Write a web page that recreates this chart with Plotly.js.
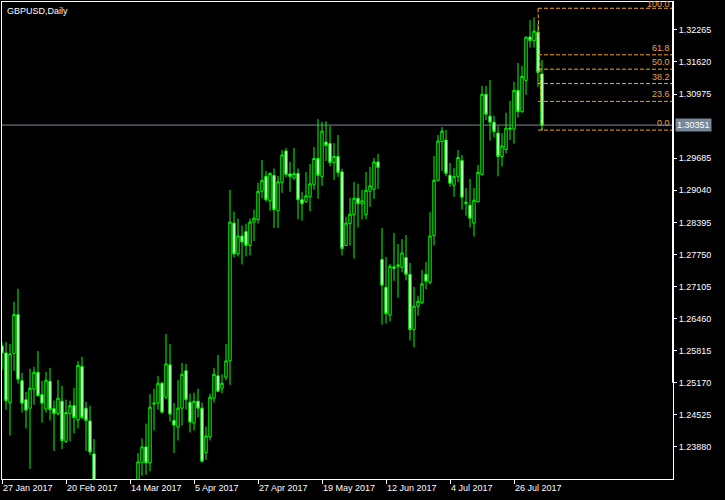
<!DOCTYPE html>
<html>
<head>
<meta charset="utf-8">
<script src="https://cdn.plot.ly/plotly-3.0.1.min.js"></script>
<style>
html,body{margin:0;padding:0;background:#000;}
#chart{width:725px;height:500px;}
</style>
</head>
<body>
<div id="chart"></div>
<script>
// ---- data (GBPUSD daily) ----
const dates = [
'2017-01-27','2017-01-30','2017-01-31',
'2017-02-01','2017-02-02','2017-02-03','2017-02-06','2017-02-07','2017-02-08','2017-02-09','2017-02-10',
'2017-02-13','2017-02-14','2017-02-15','2017-02-16','2017-02-17','2017-02-20','2017-02-21','2017-02-22',
'2017-02-23','2017-02-24','2017-02-27','2017-02-28',
'2017-03-01','2017-03-02','2017-03-03','2017-03-06','2017-03-07','2017-03-08','2017-03-09','2017-03-10',
'2017-03-13','2017-03-14','2017-03-15','2017-03-16','2017-03-17','2017-03-20','2017-03-21','2017-03-22',
'2017-03-23','2017-03-24','2017-03-27','2017-03-28','2017-03-29','2017-03-30','2017-03-31',
'2017-04-03','2017-04-04','2017-04-05','2017-04-06','2017-04-07','2017-04-10','2017-04-11','2017-04-12',
'2017-04-13','2017-04-14','2017-04-17','2017-04-18','2017-04-19','2017-04-20','2017-04-21','2017-04-24',
'2017-04-25','2017-04-26','2017-04-27','2017-04-28',
'2017-05-01','2017-05-02','2017-05-03','2017-05-04','2017-05-05','2017-05-08','2017-05-09','2017-05-10',
'2017-05-11','2017-05-12','2017-05-15','2017-05-16','2017-05-17','2017-05-18','2017-05-19','2017-05-22',
'2017-05-23','2017-05-24','2017-05-25','2017-05-26','2017-05-29','2017-05-30','2017-05-31',
'2017-06-01','2017-06-02','2017-06-05','2017-06-06','2017-06-07','2017-06-08','2017-06-09','2017-06-12',
'2017-06-13','2017-06-14','2017-06-15','2017-06-16','2017-06-19','2017-06-20','2017-06-21','2017-06-22',
'2017-06-23','2017-06-26','2017-06-27','2017-06-28','2017-06-29','2017-06-30',
'2017-07-03','2017-07-04','2017-07-05','2017-07-06','2017-07-07','2017-07-10','2017-07-11','2017-07-12',
'2017-07-13','2017-07-14','2017-07-17','2017-07-18','2017-07-19','2017-07-20','2017-07-21','2017-07-24',
'2017-07-25','2017-07-26','2017-07-27','2017-07-28','2017-07-31',
'2017-08-01','2017-08-02','2017-08-03','2017-08-04'
];
const open = [
1.2591,1.2577,1.2477,1.2576,1.2654,1.2521,1.2483,1.2466,1.2504,1.2538,1.2493,1.2464,1.2520,1.2465,1.2455,1.2480,
1.2399,1.2455,1.2471,1.2442,1.2550,1.2466,1.2440,1.2374,1.2282,1.2267,1.2296,1.2237,1.2213,1.2168,1.2165,1.2195,
1.2225,1.2160,1.2290,1.2357,1.2388,1.2356,1.2474,1.2476,1.2516,1.2488,1.2553,1.2441,1.2428,1.2466,1.2541,1.2478,
1.2436,1.2480,1.2466,1.2376,1.2408,1.2486,1.2531,1.2506,1.2528,1.2561,1.2838,1.2776,1.2812,1.2821,1.2793,1.2840,
1.2845,1.2902,1.2932,1.2883,1.2934,1.2863,1.2920,1.2983,1.2937,1.2929,1.2938,1.2885,1.2881,1.2891,1.2916,1.2968,
1.2932,1.3001,1.2998,1.2960,1.2972,1.2941,1.2793,1.2837,1.2855,1.2888,1.2877,1.2855,1.2902,1.2906,1.2961,1.2765,
1.2709,1.2653,1.2750,1.2751,1.2749,1.2769,1.2735,1.2624,1.2671,1.2678,1.2735,1.2719,1.2813,1.2924,1.3002,1.3005,
1.2934,1.2914,1.2932,1.2964,1.2877,1.2874,1.2838,1.2881,1.2936,1.3097,1.3053,1.3041,1.3019,1.2972,1.2986,1.3029,
1.3027,1.3105,1.3062,1.3125,1.3212,1.3205,1.3222,1.3138
];
const high = [
1.2598,1.2599,1.2595,1.2680,1.2706,1.2537,1.2499,1.2545,1.2549,1.2581,1.2521,1.2539,1.2547,1.2481,1.2523,1.2511,
1.2483,1.2481,1.2507,1.2561,1.2569,1.2479,1.2471,1.2404,1.2310,1.2315,1.2306,1.2260,1.2225,1.2195,1.2215,1.2252,
1.2235,1.2300,1.2376,1.2405,1.2435,1.2494,1.2505,1.2531,1.2519,1.2615,1.2595,1.2476,1.2523,1.2557,1.2555,1.2495,
1.2497,1.2505,1.2477,1.2429,1.2495,1.2547,1.2573,1.2534,1.2595,1.2905,1.2861,1.2847,1.2833,1.2837,1.2847,1.2865,
1.2919,1.2965,1.2943,1.2940,1.2948,1.2933,1.2985,1.2989,1.2961,1.2989,1.2948,1.2901,1.2941,1.2957,1.2991,1.3047,
1.3041,1.3043,1.3033,1.2999,1.3015,1.2947,1.2851,1.2889,1.2921,1.2917,1.2905,1.2941,1.2951,1.2969,1.2977,1.2828,
1.2770,1.2756,1.2818,1.2796,1.2806,1.2814,1.2758,1.2710,1.2692,1.2744,1.2760,1.2860,1.2973,1.3015,1.3031,1.3025,
1.2959,1.2949,1.2985,1.2975,1.2909,1.2927,1.2909,1.2955,1.3114,1.3114,1.3126,1.3054,1.3033,1.3019,1.3060,1.3084,
1.3122,1.3160,1.3154,1.3213,1.3246,1.3252,1.3238,1.3166
];
const low = [
1.2543,1.2463,1.2411,1.2541,1.2515,1.2457,1.2425,1.2344,1.2473,1.2489,1.2437,1.2457,1.2441,1.2380,1.2451,1.2384,
1.2396,1.2399,1.2415,1.2425,1.2443,1.2380,1.2372,1.2270,1.2252,1.2245,1.2225,1.2195,1.2155,1.2135,1.2148,1.2185,
1.2110,1.2145,1.2280,1.2330,1.2332,1.2339,1.2421,1.2463,1.2455,1.2484,1.2439,1.2376,1.2401,1.2431,1.2463,1.2417,
1.2421,1.2448,1.2357,1.2362,1.2401,1.2477,1.2498,1.2496,1.2522,1.2513,1.2769,1.2771,1.2755,1.2771,1.2773,1.2802,
1.2837,1.2888,1.2881,1.2863,1.2828,1.2828,1.2899,1.2930,1.2901,1.2925,1.2846,1.2843,1.2879,1.2862,1.2905,1.2887,
1.2913,1.2963,1.2952,1.2925,1.2931,1.2773,1.2792,1.2793,1.2767,1.2829,1.2845,1.2846,1.2871,1.2887,1.2907,1.2634,
1.2636,1.2640,1.2722,1.2688,1.2739,1.2723,1.2602,1.2588,1.2652,1.2675,1.2705,1.2715,1.2793,1.2922,1.2943,1.2932,
1.2911,1.2891,1.2920,1.2865,1.2853,1.2829,1.2811,1.2879,1.2934,1.3045,1.3004,1.3010,1.2932,1.2952,1.2978,1.3005,
1.2998,1.3050,1.3060,1.3096,1.3191,1.3191,1.3112,1.3024
];
const close = [
1.2577,1.2481,1.2575,1.2654,1.2524,1.2476,1.2462,1.2506,1.2538,1.2491,1.2476,1.2522,1.2463,1.2455,1.2486,1.2401,
1.2457,1.2471,1.2447,1.2552,1.2447,1.2441,1.2378,1.2282,1.2267,1.2296,1.2237,1.2213,1.2168,1.2165,1.2195,1.2225,
1.2160,1.2290,1.2358,1.2388,1.2356,1.2468,1.2476,1.2516,1.2458,1.2555,1.2454,1.2432,1.2466,1.2534,1.2483,1.2438,
1.2480,1.2466,1.2359,1.2410,1.2488,1.2534,1.2500,1.2516,1.2561,1.2840,1.2776,1.2812,1.2800,1.2793,1.2840,1.2848,
1.2902,1.2924,1.2885,1.2938,1.2865,1.2921,1.2975,1.2936,1.2932,1.2938,1.2885,1.2877,1.2893,1.2917,1.2968,1.2934,
1.3023,1.2994,1.2960,1.2972,1.2940,1.2787,1.2838,1.2856,1.2888,1.2877,1.2883,1.2904,1.2913,1.2961,1.2950,1.2713,
1.2656,1.2751,1.2747,1.2754,1.2778,1.2735,1.2624,1.2671,1.2681,1.2716,1.2721,1.2812,1.2924,1.3003,1.3023,1.2938,
1.2918,1.2932,1.2970,1.2890,1.2880,1.2848,1.2884,1.2940,1.3097,1.3057,1.3041,1.3022,1.2972,1.2993,1.3029,1.3027,
1.3105,1.3062,1.3133,1.3212,1.3205,1.3224,1.3141,1.3035
];

// axis labels
const xTickDates  = ['2017-01-27','2017-02-20','2017-03-14','2017-04-05','2017-04-27','2017-05-19','2017-06-12','2017-07-04','2017-07-26'];
const xTickLabels = ['27 Jan 2017','20 Feb 2017','14 Mar 2017','5 Apr 2017','27 Apr 2017','19 May 2017','12 Jun 2017','4 Jul 2017','26 Jul 2017'];
const yTickValues = [1.32265,1.31620,1.30975,1.29685,1.29040,1.28395,1.27750,1.27105,1.26460,1.25815,1.25170,1.24525,1.23880];

// Fibonacci retracement
const fibHigh = 1.3270;
const fibLow  = 1.3025;
const fibStartDate = '2017-08-03';
const fibEndDate   = '2017-08-04';
const fibLevels = [0.0, 23.6, 38.2, 50.0, 61.8, 100.0];
const fibLabels = ['0.0','23.6','38.2','50.0','61.8','100.0'];

const currentPrice = 1.30351;
const symbolTitle = 'GBPUSD,Daily';

// ---- build ----
const xIdx = dates.map((d, i) => i);
const X_MAX = 167.75;

const candles = {
  type: 'candlestick',
  x: xIdx, open: open, high: high, low: low, close: close,
  increasing: {line: {color: '#00ff00', width: 1}, fillcolor: '#000000'},
  decreasing: {line: {color: '#00ff00', width: 1}, fillcolor: '#ffffff'},
  whiskerwidth: 0,
  hoverinfo: 'skip',
  showlegend: false
};

const fibStart = dates.indexOf(fibStartDate);
const fibEnd = dates.indexOf(fibEndDate);
const FIB_LINE = '#f0a030';
const FIB_TEXT = '#e3a552';

const shapes = [];
const annotations = [];
fibLevels.forEach((lv, i) => {
  const p = fibLow + (fibHigh - fibLow) * lv / 100;
  shapes.push({type: 'line', xref: 'x', yref: 'y', x0: fibStart, x1: X_MAX, y0: p, y1: p,
    line: {color: FIB_LINE, width: 1, dash: '4px,2px'}});
  annotations.push({xref: 'paper', yref: 'y', x: 1, y: p, xanchor: 'right', yanchor: 'bottom',
    xshift: -1, yshift: (lv === 100 ? -3 : 0), text: fibLabels[i], showarrow: false,
    font: {family: 'Liberation Sans, Arial, sans-serif', size: 9, color: FIB_TEXT}});
});
shapes.push({type: 'line', xref: 'x', yref: 'y', x0: fibStart, x1: fibEnd, y0: fibHigh, y1: fibLow,
  line: {color: FIB_LINE, width: 1, dash: '4px,2px'}});

// current price line
shapes.push({type: 'line', xref: 'paper', yref: 'y', x0: 0, x1: 1, y0: currentPrice, y1: currentPrice,
  line: {color: '#7b8896', width: 1}, layer: 'below'});

// thicker upper part of the price-scale border
shapes.push({type: 'line', xref: 'paper', yref: 'y', x0: 1, x1: 1, y0: yTickValues[10], y1: 1.32826,
  line: {color: '#ffffff', width: 2}});

annotations.push({xref: 'paper', yref: 'y', x: 1, y: currentPrice, xanchor: 'left', yanchor: 'middle',
  xshift: 2, text: currentPrice.toFixed(5), showarrow: false, bgcolor: '#778899', borderpad: 1,
  font: {family: 'Liberation Sans, Arial, sans-serif', size: 9, color: '#ffffff'}});

annotations.push({xref: 'paper', yref: 'paper', x: 0, y: 1, xanchor: 'left', yanchor: 'top',
  xshift: 3, yshift: -2, text: symbolTitle, showarrow: false,
  font: {family: 'Liberation Sans, Arial, sans-serif', size: 9, color: '#ffffff'}});

const tickFont = {family: 'Liberation Sans, Arial, sans-serif', size: 9, color: '#ffffff'};

const layout = {
  width: 725, height: 500,
  paper_bgcolor: '#000000', plot_bgcolor: '#000000',
  margin: {l: 2, r: 52, t: 2, b: 21, pad: 0},
  showlegend: false,
  hovermode: false,
  boxgap: 0.15,
  xaxis: {
    type: 'linear', range: [0, X_MAX], rangeslider: {visible: false},
    showgrid: false, zeroline: false, showline: true, mirror: true, linecolor: '#ffffff', linewidth: 1,
    ticks: 'outside', ticklen: 4, tickcolor: '#ffffff', tickwidth: 1,
    tickvals: xTickDates.map(d => dates.indexOf(d)), ticktext: xTickLabels,
    ticklabelposition: 'outside right', tickfont: tickFont, fixedrange: true
  },
  yaxis: {
    side: 'right', range: [1.23235, 1.32826],
    showgrid: false, zeroline: false, showline: true, mirror: true, linecolor: '#ffffff', linewidth: 1,
    ticks: 'outside', ticklen: 3, tickcolor: '#ffffff', tickwidth: 1,
    tickvals: yTickValues, tickformat: '.5f', tickfont: tickFont, fixedrange: true
  },
  shapes: shapes,
  annotations: annotations
};

Plotly.newPlot('chart', [candles], layout, {displayModeBar: false, staticPlot: true});
</script>
</body>
</html>
